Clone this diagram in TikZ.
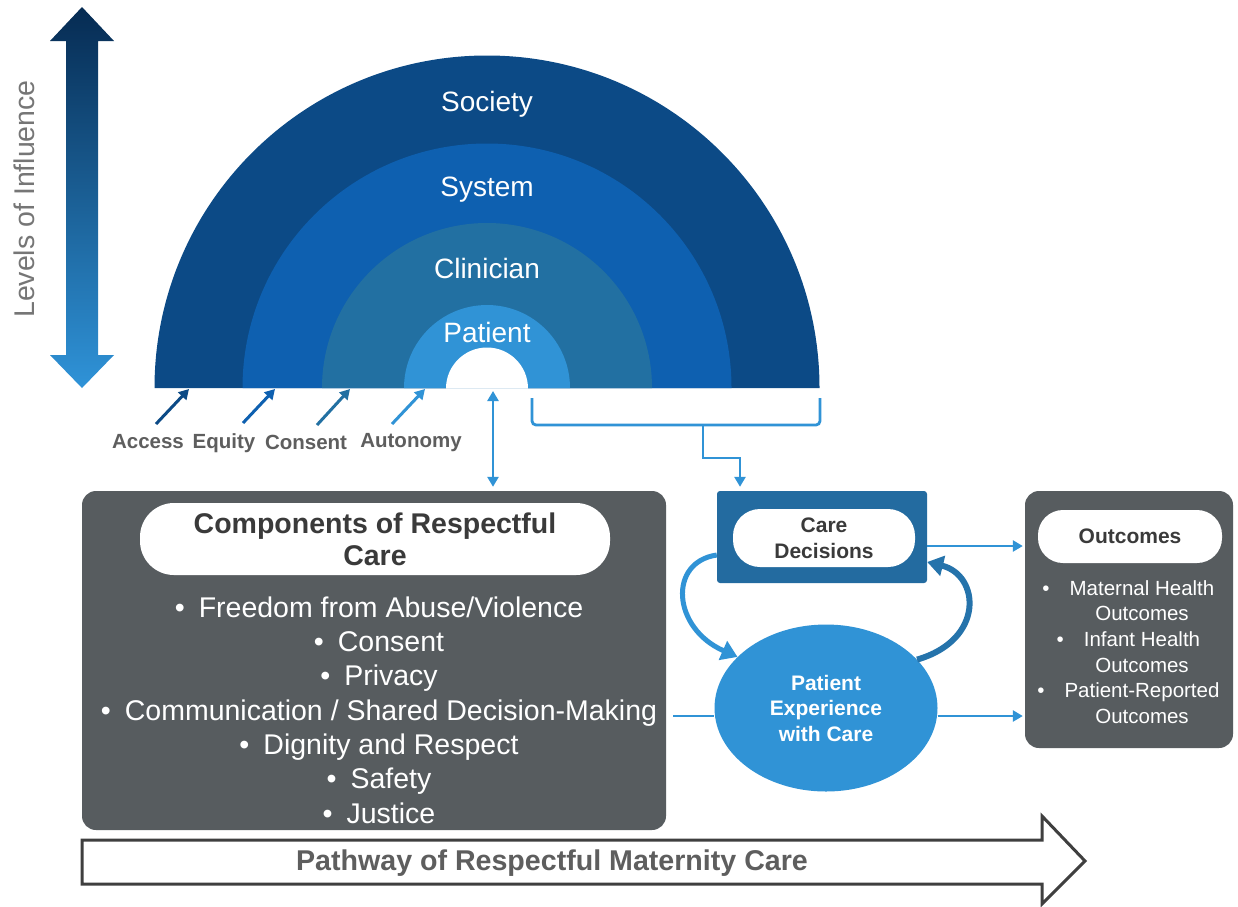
\documentclass[tikz,border=0pt]{standalone}
\usepackage{fontspec}
\setmainfont{Liberation Sans}
\usetikzlibrary{arrows.meta,shapes.geometric}
\definecolor{soc}{HTML}{0C4A86}
\definecolor{sys}{HTML}{0E60B0}
\definecolor{cli}{HTML}{2270A2}
\definecolor{pat}{HTML}{3093D6}
\definecolor{gbox}{HTML}{575C5F}
\definecolor{dtext}{HTML}{3A3A3A}
\definecolor{ltext}{HTML}{5E5E5E}
\definecolor{cdblue}{HTML}{236BA0}
\definecolor{lineblue}{HTML}{3093D6}
\definecolor{arrtop}{HTML}{062B52}
\definecolor{arrbot}{HTML}{2F93D8}
\definecolor{pathline}{HTML}{3F3F3F}
\newcommand{\myfs}[2]{\fontsize{#1}{#2}\selectfont}
\begin{document}
\begin{tikzpicture}[x=1pt,y=-1pt,
  ringlabel/.style={text=white, font=\myfs{28}{34}},
  blabel/.style={text=ltext, font=\myfs{20.5}{24}\bfseries},
  graybox/.style={fill=gbox, rounded corners=14pt, inner sep=0pt},
  pill/.style={fill=white, inner sep=0pt, text=dtext, align=center},
  blueline/.style={draw=lineblue, line width=2.8pt},
  smalltip/.style={-{Triangle[length=10pt,width=11pt]}},
  bigtip/.style={-{Triangle[length=16pt,width=20pt]}}
]
\fill[white] (0,0) rectangle (1238,906);
\useasboundingbox (0,0) rectangle (1238,906);

% Levels of influence arrow
\shade[top color=arrtop, bottom color=arrbot]
  (82,7) -- (114,41) -- (98,41) -- (98,355) -- (114,355) -- (82,388)
  -- (50,355) -- (66,355) -- (66,41) -- (50,41) -- cycle;
\node[rotate=90, text=ltext!85, font=\myfs{28.5}{34}] (loi) at (24,199) {Levels of Influence};

% semicircle rings
\fill[soc] (154.5,388) arc[start angle=180, end angle=360, radius=332.5] -- cycle;
\fill[sys] (242.5,388) arc[start angle=180, end angle=360, radius=244.5] -- cycle;
\fill[cli] (322,388) arc[start angle=180, end angle=360, radius=165] -- cycle;
\fill[pat] (404,388) arc[start angle=180, end angle=360, radius=83] -- cycle;
\fill[white] (446,388.5) arc[start angle=180, end angle=360, radius=41] -- cycle;

\node[ringlabel] (society) at (487,104) {Society};
\node[ringlabel] (system) at (487,190) {System};
\node[ringlabel] (clinician) at (487,268) {Clinician};
\node[ringlabel] (patient) at (487,332) {Patient};

% bottom labels and arrows
\node[blabel] (access) at (148,442) {Access};
\node[blabel] (equity) at (224,443) {Equity};
\node[blabel] (consent) at (306,442) {Consent};
\node[blabel] (autonomy) at (411,443) {Autonomy};
\coordinate (aT) at (156,424); \coordinate (aH) at (189,389);
\coordinate (eT) at (243,423); \coordinate (eH) at (275,389);
\coordinate (cT) at (317,425); \coordinate (cH) at (350,389);
\coordinate (uT) at (392,424); \coordinate (uH) at (425,389);
\draw[smalltip, line width=3pt, soc] (aT) -- (aH);
\draw[smalltip, line width=3pt, sys] (eT) -- (eH);
\draw[smalltip, line width=3pt, cli] (cT) -- (cH);
\draw[smalltip, line width=3pt, pat] (uT) -- (uH);

% components box
\node[graybox, minimum width=584pt, minimum height=339pt] (comp) at (374,660.5) {};
\node[pill, minimum width=470pt, minimum height=72pt, rounded corners=34pt,
      font=\myfs{28.5}{32}\bfseries] (comppill) at (375,539) {Components of Respectful\\Care};
\node[text=white, align=center, font=\myfs{28.5}{34.3}, inner sep=0pt] (complist) at (391,710)
 {\llap{•\hspace{14pt}}Freedom from Abuse/Violence\\
  \llap{•\hspace{14pt}}Consent\\
  \llap{•\hspace{14pt}}Privacy\\
  \llap{•\hspace{14pt}}Communication / Shared Decision-Making\\
  \llap{•\hspace{14pt}}Dignity and Respect\\
  \llap{•\hspace{14pt}}Safety\\
  \llap{•\hspace{14pt}}Justice};

% care decisions
\node[fill=cdblue, minimum width=210pt, minimum height=92pt, rounded corners=3pt, inner sep=0pt] (cd) at (822,537) {};
\node[pill, minimum width=182pt, minimum height=58pt, rounded corners=27pt,
      font=\myfs{21}{26}\bfseries] (cdpill) at (824,538) {Care\\Decisions};

% patient experience
\node[ellipse, fill=pat, minimum width=223pt, minimum height=167pt, inner sep=0pt,
      text=white, align=center, font=\myfs{21}{25.5}\bfseries] (pe) at (826,708) {Patient\\Experience\\with Care};

% outcomes
\node[graybox, minimum width=208pt, minimum height=257pt] (oc) at (1129,619.5) {};
\node[pill, minimum width=184pt, minimum height=53pt, rounded corners=25pt,
      font=\myfs{21}{26}\bfseries] (ocpill) at (1130,536.5) {Outcomes};
\node[text=white, align=center, font=\myfs{20.5}{25.6}, inner sep=0pt] (oclist) at (1142,652)
 {\llap{•\hspace{20pt}}Maternal Health\\Outcomes\\
  \llap{•\hspace{20pt}}Infant Health\\Outcomes\\
  \llap{•\hspace{20pt}}Patient-Reported\\Outcomes};

% connectors
\coordinate (hb) at (493,391);
\draw[blueline, {Triangle[length=10pt,width=11pt]}-{Triangle[length=10pt,width=11pt]}]
  (hb) -- ([yshift=4pt]comp.north -| hb);
\coordinate (brL) at (532,398);
\coordinate (brR) at (820,398);
\coordinate (brM) at (703,425);
\draw[blueline, rounded corners=4pt] (brL) -- (brL |- brM) -- (brR |- brM) -- (brR);
\coordinate (brK) at (740,458);
\draw[blueline, smalltip] (brM) -- (brM |- brK) -- (brK) -- ([yshift=4pt]cd.north -| brK);

\draw[blueline, smalltip, shorten >=2pt] ([yshift=-9pt]cd.east) -- ([yshift=-9pt]cd.east -| oc.west);
\draw[blueline, shorten <=7pt] ([yshift=-55.5pt]comp.east) -- ([yshift=-55.5pt]comp.east -| pe.west);
\draw[blueline, smalltip, shorten >=2pt] ([yshift=-8pt]pe.east) -- ([yshift=-8pt]pe.east -| oc.west);

% loop arrows
\draw[line width=5pt, lineblue, bigtip] ([yshift=-18pt]cd.west) .. controls (668,562) and (672,628) .. (pe.150);
\draw[line width=6pt, cdblue!80!lineblue, bigtip] (pe.28) .. controls (985,640) and (980,575) .. ([yshift=-25pt]cd.east);

% pathway arrow
\draw[pathline, line width=3pt, fill=white, line join=miter]
  (82,840) -- (1042,840) -- (1042,816) -- (1085,861) -- (1042,904) -- (1042,884) -- (82,884) -- cycle;
\node[text=ltext, font=\myfs{28.6}{34}\bfseries] (pathway) at (552,863) {Pathway of Respectful Maternity Care};
\end{tikzpicture}
\end{document}
